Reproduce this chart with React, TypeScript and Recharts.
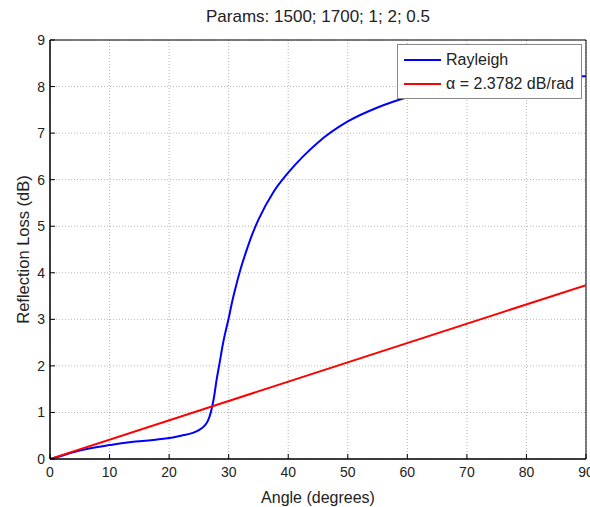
import React from 'react';
import {
    LineChart, Line, XAxis, YAxis, CartesianGrid, ReferenceArea, Label
} from 'recharts';

const title = 'Params: 1500; 1700; 1; 2; 0.5';

// grazing angle (deg) and Rayleigh reflection loss (dB)
const rayAngles = [0, 2, 4, 6, 8, 10, 12, 14, 16, 18, 20, 22, 24, 25, 26, 26.5, 27, 27.5, 28, 28.5, 29, 29.5, 30, 30.5, 31, 32, 33, 34, 35, 37.5, 40, 42.5, 45, 50, 55, 60, 65, 70, 75, 80, 85, 90];
const rayLoss = [0, 0.07, 0.15, 0.21, 0.26, 0.30, 0.34, 0.37, 0.39, 0.42, 0.45, 0.50, 0.56, 0.62, 0.72, 0.82, 1.0, 1.3, 1.72, 2.08, 2.45, 2.75, 3.02, 3.33, 3.6, 4.08, 4.48, 4.84, 5.14, 5.73, 6.15, 6.5, 6.8, 7.25, 7.55, 7.77, 7.93, 8.05, 8.13, 8.18, 8.21, 8.22];

// linear loss fit, alpha = 2.3782 dB/rad
const fitAngles = [0, 90];
const fitLoss = [0, 3.7357];

const xTicks = [0, 10, 20, 30, 40, 50, 60, 70, 80, 90];
const yTicks = [0, 1, 2, 3, 4, 5, 6, 7, 8, 9];

const seriesNames = ['Rayleigh', '\u03b1 = 2.3782 dB/rad'];
const seriesColors = ['#0000ff', '#ff0000'];

const rayData = rayAngles.map((a, i) => ({ angle: a, loss: rayLoss[i] }));
const fitData = fitAngles.map((a, i) => ({ angle: a, loss: fitLoss[i] }));

const FONT = '"Liberation Sans", Arial, Helvetica, sans-serif';
const TXT = '#222';
const TL = 5;

const BottomTick = (p: any) => (
    <g>
        <line x1={p.x} y1={p.y} x2={p.x} y2={p.y - TL} stroke="#000" />
        <text x={p.x} y={p.y + 18} textAnchor="middle" fontSize={14} fill={TXT} fontFamily={FONT}>
            {p.payload.value}
        </text>
    </g>
);
const TopTick = (p: any) => (
    <line x1={p.x} y1={p.y} x2={p.x} y2={p.y + TL} stroke="#000" />
);
const LeftTick = (p: any) => (
    <g>
        <line x1={p.x} y1={p.y} x2={p.x + TL} y2={p.y} stroke="#000" />
        <text x={p.x - 5} y={p.y + 5} textAnchor="end" fontSize={14} fill={TXT} fontFamily={FONT}>
            {p.payload.value}
        </text>
    </g>
);
const RightTick = (p: any) => (
    <line x1={p.x} y1={p.y} x2={p.x - TL} y2={p.y} stroke="#000" />
);

export default function App() {
    return (
        <div style={{ position: 'absolute', left: 0, top: 0, width: 590, height: 507, background: '#fff', fontFamily: FONT }}>
            <div style={{ position: 'absolute', left: 50, width: 536, top: 7, textAlign: 'center', fontSize: 17, color: TXT }}>
                {title}
            </div>
            <LineChart width={590} height={507} data={rayData}
                margin={{ top: 40, right: 4, left: 0, bottom: 0 }}>
                <CartesianGrid stroke="#b5b5b5" strokeDasharray="1 2" horizontalValues={yTicks} verticalValues={xTicks} />
                <XAxis dataKey="angle" type="number" domain={[0, 90]} ticks={xTicks} allowDataOverflow
                    height={48} tickSize={0} tickMargin={0} tick={BottomTick} stroke="#000" interval={0}>
                    <Label value="Angle (degrees)" position="insideBottom" offset={4}
                        style={{ fontSize: 16, fill: TXT, fontFamily: FONT }} />
                </XAxis>
                <XAxis xAxisId="top" orientation="top" dataKey="angle" type="number" domain={[0, 90]} ticks={xTicks}
                    allowDataOverflow height={0} tickSize={0} tickMargin={0} tick={TopTick} stroke="#000" interval={0} />
                <YAxis type="number" domain={[0, 9]} ticks={yTicks} allowDataOverflow width={50}
                    tickSize={0} tickMargin={0} tick={LeftTick} stroke="#000" interval={0}>
                    <Label value="Reflection Loss (dB)" angle={-90} position="insideLeft" offset={23}
                        style={{ fontSize: 16.5, fill: TXT, fontFamily: FONT, textAnchor: 'middle' }} />
                </YAxis>
                <YAxis yAxisId="right" orientation="right" type="number" domain={[0, 9]} ticks={yTicks} allowDataOverflow
                    width={0} tickSize={0} tickMargin={0} tick={RightTick} stroke="#000" interval={0} />
                <ReferenceArea x1={0} x2={90} y1={0} y2={9} fill="none" stroke="#000" strokeWidth={1} fillOpacity={0} ifOverflow="visible" />
                <Line data={rayData} dataKey="loss" type="monotone" stroke={seriesColors[0]} strokeWidth={2}
                    dot={false} isAnimationActive={false} name={seriesNames[0]} />
                <Line data={fitData} dataKey="loss" type="linear" stroke={seriesColors[1]} strokeWidth={2}
                    dot={false} isAnimationActive={false} name={seriesNames[1]} />
            </LineChart>
            <div style={{
                position: 'absolute', left: 397, top: 44, width: 183, height: 53,
                background: '#fff', border: '1px solid #888', fontSize: 16, color: TXT
            }}>
                {seriesNames.map((n, i) => (
                    <div key={n} style={{ display: 'flex', alignItems: 'center', height: 24, marginTop: i === 0 ? 3 : 0 }}>
                        <div style={{ width: 37, height: 2, background: seriesColors[i], marginLeft: 6, marginRight: 5 }} />
                        <span>{n}</span>
                    </div>
                ))}
            </div>
        </div>
    );
}
